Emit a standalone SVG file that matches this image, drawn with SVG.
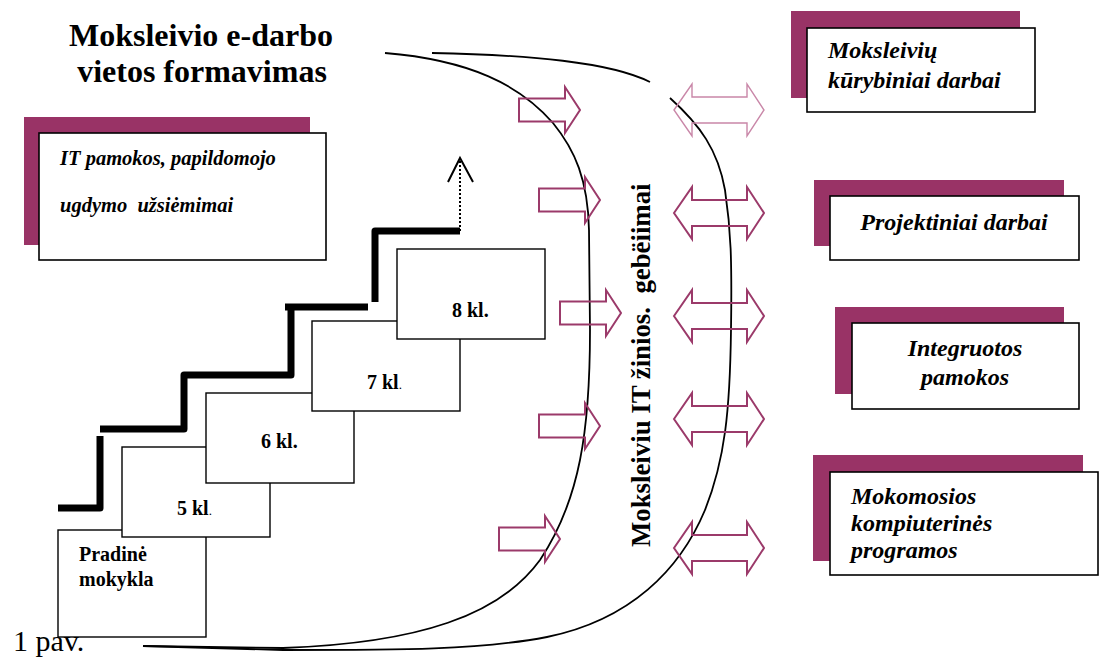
<svg xmlns="http://www.w3.org/2000/svg" xmlns:xlink="http://www.w3.org/1999/xlink" width="1100" height="660" viewBox="0 0 1100 660">
<style>
.shadow{fill:#993366}
.box{fill:#fff;stroke:#000;stroke-width:1.6}
.step{fill:#fff;stroke:#000;stroke-width:1.4}
.it{font-family:"Liberation Serif",serif;font-weight:bold;font-style:italic;fill:#000}
.bs{font-family:"Liberation Serif",serif;font-weight:bold;fill:#000}
.arr{fill:none;stroke:#9b3a6a;stroke-width:2}
.arrl{fill:none;stroke:#c987a8;stroke-width:1.4}
.curve{fill:none;stroke:#000;stroke-width:1.8}
.stair{fill:none;stroke:#000;stroke-width:7;stroke-linejoin:round}
</style>
<defs>
<path id="ra" d="M0,-11.5 H46 V-23 L61,0 L46,23 V11.5 H0 Z"/>
<path id="da" d="M0,0 L18,-26 V-13 H73 V-26 L90,0 L73,26 V13 H18 V26 Z"/>
</defs>

<g id="title">
<text class="bs" x="201" y="46" font-size="32" text-anchor="middle">Moksleivio e-darbo</text>
<text class="bs" x="202" y="82" font-size="32" text-anchor="middle">vietos formavimas</text>
</g>

<g id="it-box">
<rect class="shadow" x="24" y="117" width="286" height="128"/>
<rect class="box" x="39" y="133" width="287" height="127"/>
<text class="it" x="60" y="165" font-size="20.5">IT pamokos, papildomojo</text>
<text class="it" x="60" y="212" font-size="20.5" xml:space="preserve">ugdymo  užsiėmimai</text>
</g>

<g id="stairs-line">
<path class="stair" d="M58,508 H100 V436"/>
<path class="stair" d="M100,429 H184 V375 H291 V305"/>
<path class="stair" d="M285,307 H368"/>
<path class="stair" d="M375,302 V231 H460"/>
<path d="M460,231 V160" fill="none" stroke="#000" stroke-width="2" stroke-dasharray="2,2"/>
<path d="M448,182 L460,158 L473,182" fill="none" stroke="#000" stroke-width="2"/>
</g>

<g id="step-pradine">
<rect class="step" x="58" y="530" width="148" height="107"/>
<text class="bs" x="79" y="561" font-size="20">Pradinė</text>
<text class="bs" x="79" y="586" font-size="20">mokykla</text>
</g>
<g id="step-5">
<rect class="step" x="122" y="447" width="148" height="90"/>
<text class="bs" x="177" y="515" font-size="20">5 kl<tspan font-weight="normal" font-size="13">.</tspan></text>
</g>
<g id="step-6">
<rect class="step" x="206" y="393" width="148" height="90"/>
<text class="bs" x="261" y="448" font-size="20">6 kl.</text>
</g>
<g id="step-7">
<rect class="step" x="312" y="321" width="148" height="90"/>
<text class="bs" x="367" y="389" font-size="20">7 kl<tspan font-weight="normal" font-size="13">.</tspan></text>
</g>
<g id="step-8">
<rect class="step" x="397" y="249" width="148" height="90"/>
<text class="bs" x="452" y="317" font-size="20">8 kl.</text>
</g>

<g id="connectors">
<path class="curve" d="M385,53 C470,60 520,85 553,123 C575,150 588,180 589,230 L590,330 C590,430 580,500 540,560 C500,615 420,643 283,648 L143,646"/>
<path class="curve" d="M432,53 C530,55 610,62 650,82"/>
<path class="curve" d="M670,98 C700,125 718,150 725,190 C731,230 732,260 731,330 C730,410 725,460 705,510 C680,570 630,620 547,637 C480,650 400,650 283,650 L143,646"/>
<use xlink:href="#ra" href="#ra" class="arr" x="519" y="110"/>
<use xlink:href="#ra" href="#ra" class="arr" x="539" y="200"/>
<use xlink:href="#ra" href="#ra" class="arr" x="560" y="313"/>
<use xlink:href="#ra" href="#ra" class="arr" x="539" y="426"/>
<use xlink:href="#ra" href="#ra" class="arr" x="499" y="539"/>
<use xlink:href="#da" href="#da" class="arrl" x="674" y="110"/>
<use xlink:href="#da" href="#da" class="arr" x="674" y="213"/>
<use xlink:href="#da" href="#da" class="arr" x="674" y="316"/>
<use xlink:href="#da" href="#da" class="arr" x="674" y="419"/>
<use xlink:href="#da" href="#da" class="arr" x="674" y="548"/>
</g>

<g id="center-label">
<text class="bs" font-size="26.8" transform="translate(650,547) rotate(-90)" xml:space="preserve">Moksleiviu IT žinios.  gebëiimai</text>
</g>

<g id="box-kurybiniai">
<rect class="shadow" x="791" y="11" width="229" height="87"/>
<rect class="box" x="807" y="28" width="228" height="84"/>
<text class="it" x="828" y="58" font-size="24">Moksleivių</text>
<text class="it" x="828" y="88" font-size="24">kūrybiniai darbai</text>
</g>

<g id="box-projektiniai">
<rect class="shadow" x="814" y="180" width="250" height="66"/>
<rect class="box" x="830" y="196" width="249" height="64"/>
<text class="it" x="954" y="230" font-size="24" text-anchor="middle">Projektiniai darbai</text>
</g>

<g id="box-integruotos">
<rect class="shadow" x="835" y="307" width="229" height="87"/>
<rect class="box" x="852" y="323" width="227" height="86"/>
<text class="it" x="965" y="356" font-size="24" text-anchor="middle">Integruotos</text>
<text class="it" x="965" y="385" font-size="24" text-anchor="middle">pamokos</text>
</g>

<g id="box-mokomosios">
<rect class="shadow" x="813" y="455" width="270" height="106"/>
<rect class="box" x="830" y="472" width="268" height="103"/>
<text class="it" x="851" y="504" font-size="24">Mokomosios</text>
<text class="it" x="851" y="531" font-size="24">kompiuterinės</text>
<text class="it" x="851" y="558" font-size="24">programos</text>
</g>

<g id="caption">
<text x="13" y="651" font-family="Liberation Serif, serif" font-size="30" fill="#000">1 pav.</text>
</g>
</svg>
